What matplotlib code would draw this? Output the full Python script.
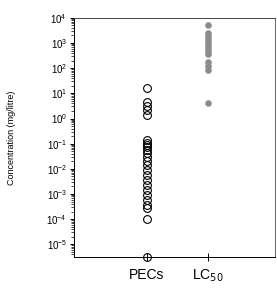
import matplotlib
matplotlib.use("Agg")
import matplotlib.pyplot as plt
from matplotlib.ticker import LogLocator, NullFormatter

plt.rcParams["font.family"] = ["Liberation Sans", "DejaVu Sans"]

# values (mg/litre)
categories = ["PECs", "LC$_{50}$"]
pec_values = [
    16.6, 4.7, 3.2, 2.2, 1.4,
    0.145, 0.11, 0.091, 0.076, 0.058, 0.044, 0.030, 0.021,
    0.0148, 0.0093, 0.0059, 0.0037, 0.0023, 0.0015, 0.00095,
    0.0006, 0.00038, 0.00029, 0.000105,
]
pec_zero_count = 1  # value of zero, drawn on the axis floor
lc50_values = [
    5200, 2500, 1950, 1480, 1120, 850, 645, 490, 370,
    178, 126, 87, 4.3,
]
decades = list(range(-5, 5))

fig = plt.figure(figsize=(2.77, 2.88), dpi=100)
ax = fig.add_axes([0.267, 0.108, 0.726, 0.83])

ymin, ymax = 10 ** -5.5, 1e4

ax.plot([0] * len(pec_values), pec_values, "o", ms=5.6, mfc="none",
        mec="black", mew=0.8)
ax.plot([0] * pec_zero_count, [ymin] * pec_zero_count, "o", ms=5.6,
        mfc="none", mec="black", mew=0.8, clip_on=False, zorder=5)
ax.plot([1] * len(lc50_values), lc50_values, "o", ms=4.4, mfc="#8a8a8a",
        mec="#9a9a9a", mew=0.4)

ax.set_yscale("log")
ax.set_yticks([10.0 ** k for k in decades])
ax.yaxis.set_minor_locator(LogLocator(base=10, subs=range(2, 10), numticks=20))
ax.yaxis.set_minor_formatter(NullFormatter())
ax.set_ylim(ymin, ymax)
ax.set_xlim(-1.19, 2.1)

ax.set_xticks([0, 1])
ax.set_xticklabels(categories, fontsize=10)
ax.tick_params(axis="x", direction="inout", length=6, width=0.7, pad=5)
ax.tick_params(axis="y", which="major", direction="out", length=3,
               width=0.7, labelsize=7, pad=2)
ax.tick_params(axis="y", which="minor", direction="out", length=2, width=0.5)

for s in ax.spines.values():
    s.set_linewidth(0.7)
ax.spines["top"].set_color("#444444")
ax.spines["right"].set_color("#666666")

ax.set_ylabel("Concentration (mg/litre)", fontsize=6.5, labelpad=22)

fig.savefig("out.png", dpi=100)
